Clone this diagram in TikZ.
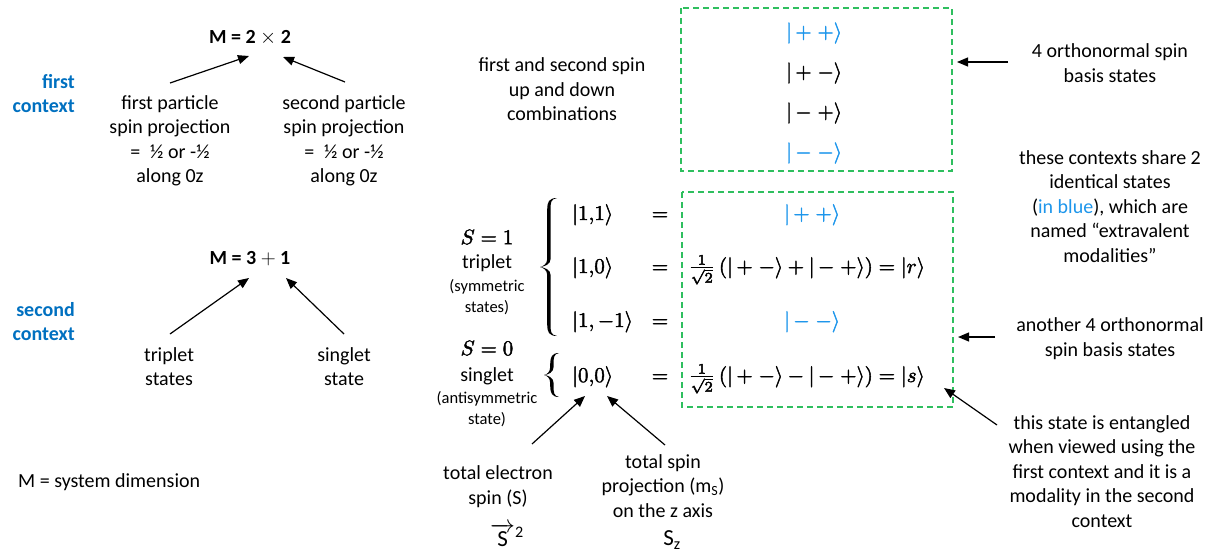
\documentclass[tikz,border=0pt]{standalone}
\usepackage{amsmath}
\usepackage{graphicx}
\usepackage{fontspec}
\setmainfont{Carlito}
\usetikzlibrary{arrows.meta}
\definecolor{ctxblue}{HTML}{0070C0}
\definecolor{ketblue}{HTML}{1E96EB}
\definecolor{boxgreen}{HTML}{2EBF5E}
\newcommand\mymath[1]{\scalebox{2.1}{\special{pdf:literal direct 2 Tr 0.2 w}$#1$\special{pdf:literal direct 0 Tr}}}
% filled curly brace: centre x, centre y, half height, tip offset, end offset
\newcommand\mybrace[5]{%
  \fill[shift={(#1,#2)}] (#5,-#3) .. controls (0,-#3) and (-1.8,{-#3+4}) .. (-1.8,{-#3+11})
    -- (-1.8,-8) .. controls (-1.8,-3) and ({#4+3},-0.6) .. (#4,0)
    .. controls ({#4+3},0.6) and (-1.8,3) .. (-1.8,8)
    -- (-1.8,{#3-11}) .. controls (-1.8,{#3-4}) and (0,#3) .. (#5,#3)
    .. controls (1.5,{#3-1}) and (1.6,{#3-5}) .. (1.6,{#3-11})
    -- (1.6,8) .. controls (1.6,2.5) and ({#4+4},0.3) .. (#4,0)
    .. controls ({#4+4},-0.3) and (1.6,-2.5) .. (1.6,-8)
    -- (1.6,{-#3+11}) .. controls (1.6,{-#3+5}) and (1.5,{-#3+1}) .. (#5,-#3) -- cycle;}
\begin{document}
\begin{tikzpicture}[x=1pt,y=-1pt,
  txt/.style={inner sep=0pt, align=center, font=\fontsize{20}{24.5}\selectfont},
  bold/.style={inner sep=0pt, font=\fontsize{20}{24.5}\selectfont\bfseries},
  small/.style={inner sep=0pt, align=center, font=\fontsize{16.5}{21}\selectfont},
  mth/.style={inner sep=0pt, font=\normalsize},
  big/.style={inner sep=0pt, font=\fontsize{23}{26}\selectfont},
  ctx/.style={inner sep=0pt, align=right, font=\fontsize{20}{23.5}\selectfont\bfseries, text=ctxblue},
  arr/.style={line width=1.2pt, -{Triangle[length=11pt,width=9pt]}},
  dbox/.style={draw=boxgreen, line width=1.3pt, dash pattern=on 6pt off 4pt},
]
\useasboundingbox (0,0) rectangle (1215,554);

% ---------- left: first context ----------
\node[bold] (M1) at (250,38) {M = 2 $\times$ 2};
\node[ctx, anchor=east] (fc) at (75,93.5) {first\\context};
\node[txt] (fp) at (170,141) {first particle\\spin projection\\=\enspace ½ or -½\\along 0z};
\node[txt] (sp) at (344,141) {second particle\\spin projection\\=\enspace ½ or -½\\along 0z};
\coordinate (a1s) at (170,83);  \coordinate (a1e) at (249,56);
\coordinate (a2s) at (345,82);  \coordinate (a2e) at (283,57);
\draw[arr] (a1s) -- (a1e);
\draw[arr] (a2s) -- (a2e);

% ---------- left: second context ----------
\node[bold] (M2) at (250,259) {M = 3 $+$ 1};
\node[ctx, anchor=east] (sc) at (75,321.5) {second\\context};
\node[txt] (ts) at (169,366.5) {triplet\\states};
\node[txt] (ss) at (344,366.5) {singlet\\state};
\coordinate (b1s) at (170,334); \coordinate (b1e) at (249,278);
\coordinate (b2s) at (344,334); \coordinate (b2e) at (286,278);
\draw[arr] (b1s) -- (b1e);
\draw[arr] (b2s) -- (b2e);

\node[txt, anchor=west] (md) at (18,482) {M = system dimension};

% ---------- top box ----------
\node[txt] (fs) at (562,89.5) {first and second spin\\up and down\\combinations};
\draw[dbox] (681,8) rectangle (952,171);
\node[mth, text=ketblue] (t1) at (814,33) {\mymath{|\,{+}\;{+}\rangle}};
\node[mth] (t2) at (814,73) {\mymath{|\,{+}\;{-}\rangle}};
\node[mth] (t3) at (814,113) {\mymath{|\,{-}\;{+}\rangle}};
\node[mth, text=ketblue] (t4) at (814,153) {\mymath{|\,{-}\;{-}\rangle}};
\coordinate (box1e) at (957,62);
\node[txt] (on1) at (1110,63) {4 orthonormal spin\\basis states};
\coordinate (c1s) at (1008,62);
\draw[arr] (c1s) -- (box1e);

\node[txt] (ctxt) at (1110,206.5) {these contexts share 2\\identical states\\(\textcolor{ketblue}{in blue}), which are\\named “extravalent\\modalities”};

% ---------- second box ----------
\draw[dbox] (682,192) rectangle (953,407);
\node[mth] (S1) at (487,237) {\mymath{S = 1}};
\node[txt] (trip) at (487,263) {triplet};
\node[small] (sym) at (487,297.5) {(symmetric\\states)};
\node[mth] (S0) at (487,348) {\mymath{S = 0}};
\node[txt] (sing) at (487,376) {singlet};
\node[small] (asym) at (487,409.5) {(antisymmetric\\state)};

\mybrace{549}{267}{69}{-9}{8}
\mybrace{552}{375}{22}{-8}{7}

\node[mth, anchor=base west] (k11) at (572,220) {\mymath{|1{,}1\rangle}};
\node[mth, anchor=base west] (k10) at (572,273) {\mymath{|1{,}0\rangle}};
\node[mth, anchor=base west] (k1m) at (572,327) {\mymath{|1,-1\rangle}};
\node[mth, anchor=base west] (k00) at (572,382) {\mymath{|0{,}0\rangle}};

\node[mth, anchor=base] (e1) at (660,220) {\mymath{=}};
\node[mth, anchor=base] (e2) at (660,273) {\mymath{=}};
\node[mth, anchor=base] (e3) at (660,327) {\mymath{=}};
\node[mth, anchor=base] (e4) at (660,382) {\mymath{=}};

\node[mth, anchor=base, text=ketblue] (r1) at (812,220) {\mymath{|\,{+}\;{+}\rangle}};
\node[mth, anchor=base west] (r2) at (688,273) {\mymath{\frac{1}{\sqrt{2}}\,(|\,{+}\;{-}\rangle + |\,{-}\;{+}\rangle) = |r\rangle}};
\node[mth, anchor=base, text=ketblue] (r3) at (812,327) {\mymath{|\,{-}\;{-}\rangle}};
\node[mth, anchor=base west] (r4) at (688,382) {\mymath{\frac{1}{\sqrt{2}}\,(|\,{+}\;{-}\rangle - |\,{-}\;{+}\rangle) = |s\rangle}};

% ---------- bottom labels ----------
\node[txt] (tes) at (498,486.5) {total electron\\spin (S)};
\node[big] (Svec) at (507,535) {$\overrightarrow{\text{S}}$\textsuperscript{2}};
\node[txt] (tsp) at (663,486) {total spin\\projection (m\textsubscript{S})\\on the z axis};
\node[big] (Sz) at (672,540) {S\textsubscript{z}};
\coordinate (d1s) at (532,444); \coordinate (d1e) at (585,396);
\coordinate (d2s) at (665,445); \coordinate (d2e) at (607,396);
\draw[arr] (d1s) -- (d1e);
\draw[arr] (d2s) -- (d2e);

% ---------- right labels ----------
\node[txt] (ao) at (1110,338.5) {another 4 orthonormal\\spin basis states};
\coordinate (c3s) at (995,337); \coordinate (c3e) at (958,337);
\draw[arr] (c3s) -- (c3e);
\node[txt] (ent) at (1102,471.5) {this state is entangled\\when viewed using the\\first context and it is a\\modality in the second\\context};
\coordinate (c4s) at (997,425); \coordinate (c4e) at (944,388);
\draw[arr] (c4s) -- (c4e);
\end{tikzpicture}
\end{document}
